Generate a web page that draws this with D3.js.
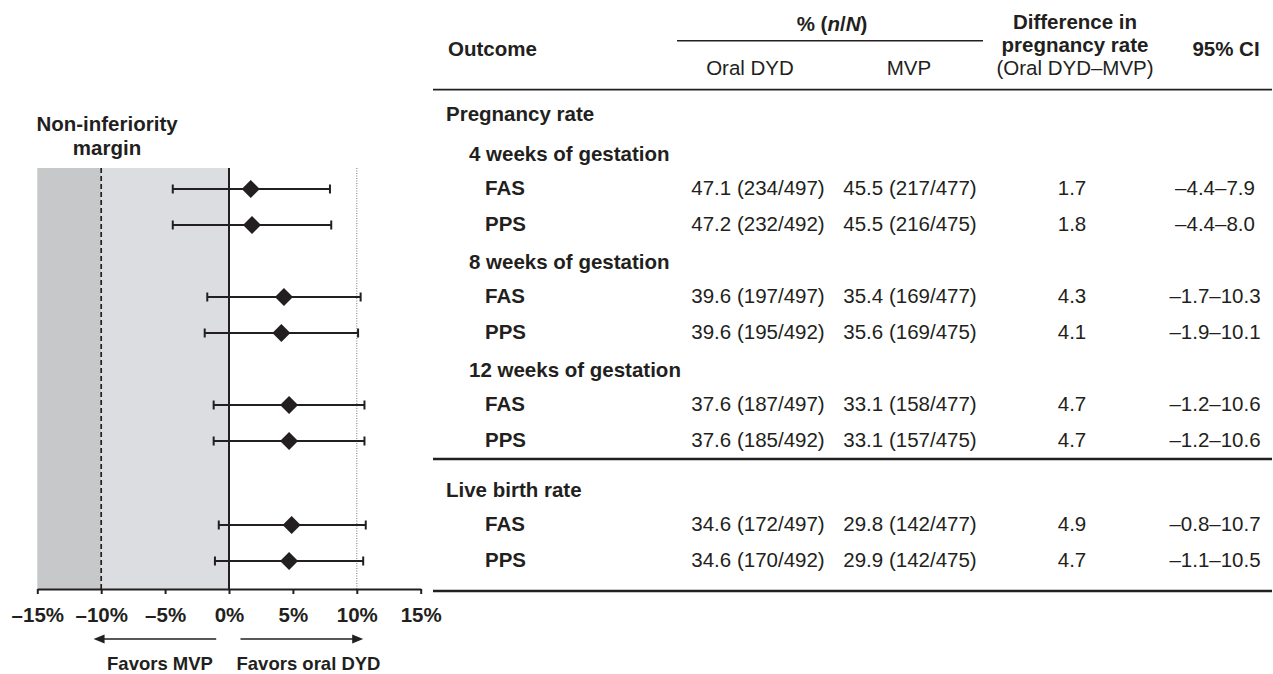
<!DOCTYPE html>
<html>
<head>
<meta charset="utf-8">
<style>
    body { margin: 0; background: #fff; }
    svg { display: block; font-family: "Liberation Sans", Arial, sans-serif; }
    text { fill: #231f20; font-size: 20.5px; }
    .bold { font-weight: bold; }
    .favor { font-size: 18.5px; }
    .x .tick text { font-weight: bold; font-size: 20.5px; fill: #231f20; }
    .x .tick line { stroke: #231f20; stroke-width: 2px; }
    .x .domain { stroke: #231f20; stroke-width: 2.2px; }
</style>
</head>
<body>
<svg width="1273" height="674"></svg>

<script src="https://d3js.org/d3.v7.min.js"></script>
<script>
    // table content
    let sections = ["Pregnancy rate", "Live birth rate"];
    let groups = ["4 weeks of gestation", "8 weeks of gestation", "12 weeks of gestation"];
    let populations = ["FAS", "PPS", "FAS", "PPS", "FAS", "PPS", "FAS", "PPS"];
    let oralDYD = ["47.1 (234/497)", "47.2 (232/492)", "39.6 (197/497)", "39.6 (195/492)",
                   "37.6 (187/497)", "37.6 (185/492)", "34.6 (172/497)", "34.6 (170/492)"];
    let mvp = ["45.5 (217/477)", "45.5 (216/475)", "35.4 (169/477)", "35.6 (169/475)",
               "33.1 (158/477)", "33.1 (157/475)", "29.8 (142/477)", "29.9 (142/475)"];
    let diff = [1.7, 1.8, 4.3, 4.1, 4.7, 4.7, 4.9, 4.7];
    let ciLow = [-4.4, -4.4, -1.7, -1.9, -1.2, -1.2, -0.8, -1.1];
    let ciHigh = [7.9, 8.0, 10.3, 10.1, 10.6, 10.6, 10.7, 10.5];
    let xTicks = [-15, -10, -5, 0, 5, 10, 15];
    let niMargin = -10;

    let svg = d3.select("svg");
    let dash = "\u2013";
    let fmtNum = v => (v < 0 ? dash : "") + Math.abs(v).toFixed(1);

    // build the row layout (y of each line in the table)
    let lines = [];
    let cursor = 113;
    lines.push({ type: "section", text: sections[0], y: cursor });
    cursor += 40;
    groups.forEach(function (g, gi) {
        lines.push({ type: "group", text: g, y: cursor });
        cursor += 36;
        [0, 1].forEach(function (k) {
            lines.push({ type: "data", i: gi * 2 + k, y: cursor });
            cursor += 36;
        });
    });
    let ruleY = cursor - 18;
    cursor = ruleY + 30;
    lines.push({ type: "section", text: sections[1], y: cursor });
    cursor += 36;
    [6, 7].forEach(function (i) {
        lines.push({ type: "data", i: i, y: cursor });
        cursor += 36;
    });
    let bottomY = cursor - 6;

    let dataLines = lines.filter(d => d.type == "data");

    // forest plot
    let plotTop = 168, axisY = 589;
    let x = d3.scaleLinear().domain([-15, 15]).range([37.3, 420.7]);

    svg.append("rect")
        .attr("x", x(-15)).attr("y", plotTop)
        .attr("width", x(niMargin) - x(-15)).attr("height", axisY - plotTop)
        .attr("fill", "#c7c8ca");
    svg.append("rect")
        .attr("x", x(niMargin)).attr("y", plotTop)
        .attr("width", x(0) - x(niMargin)).attr("height", axisY - plotTop)
        .attr("fill", "#dcdde0");

    svg.append("line")
        .attr("x1", x(niMargin)).attr("x2", x(niMargin))
        .attr("y1", plotTop).attr("y2", axisY)
        .attr("stroke", "#231f20").attr("stroke-width", 1.7)
        .attr("stroke-dasharray", "5,3");
    svg.append("line")
        .attr("x1", x(10)).attr("x2", x(10))
        .attr("y1", plotTop).attr("y2", axisY)
        .attr("stroke", "#777").attr("stroke-width", 1)
        .attr("stroke-dasharray", "1,1.5");
    svg.append("line")
        .attr("x1", x(0)).attr("x2", x(0))
        .attr("y1", plotTop).attr("y2", axisY)
        .attr("stroke", "#231f20").attr("stroke-width", 2);

    let xAxis = d3.axisBottom(x)
        .tickValues(xTicks)
        .tickSize(5)
        .tickPadding(13)
        .tickSizeOuter(0)
        .tickFormat(d => (d < 0 ? dash : "") + Math.abs(d) + "%");

    svg.append("g")
        .attr("class", "x axis")
        .attr("transform", `translate(0,${axisY})`)
        .call(xAxis)
        .call(g => g.attr("font-family", null).attr("font-size", null));

    let forest = svg.append("g").selectAll("g")
        .data(dataLines)
        .join("g");

    forest.append("line")
        .attr("x1", d => x(ciLow[d.i])).attr("x2", d => x(ciHigh[d.i]))
        .attr("y1", d => d.y).attr("y2", d => d.y)
        .attr("stroke", "#231f20").attr("stroke-width", 2);
    forest.append("line")
        .attr("x1", d => x(ciLow[d.i])).attr("x2", d => x(ciLow[d.i]))
        .attr("y1", d => d.y - 4.5).attr("y2", d => d.y + 4.5)
        .attr("stroke", "#231f20").attr("stroke-width", 2);
    forest.append("line")
        .attr("x1", d => x(ciHigh[d.i])).attr("x2", d => x(ciHigh[d.i]))
        .attr("y1", d => d.y - 4.5).attr("y2", d => d.y + 4.5)
        .attr("stroke", "#231f20").attr("stroke-width", 2);
    forest.append("path")
        .attr("d", d => {
            let cx = x(diff[d.i]), cy = d.y, r = 9;
            return `M${cx},${cy - r}L${cx + r},${cy}L${cx},${cy + r}L${cx - r},${cy}Z`;
        })
        .attr("fill", "#231f20");

    // margin label
    svg.append("text").attr("class", "bold")
        .attr("x", 107).attr("y", 123).attr("text-anchor", "middle")
        .attr("dominant-baseline", "central").text("Non-inferiority");
    svg.append("text").attr("class", "bold")
        .attr("x", 107).attr("y", 147).attr("text-anchor", "middle")
        .attr("dominant-baseline", "central").text("margin");

    // favours arrows
    let arrowY = 639;
    function arrow(x1, x2) {
        svg.append("line")
            .attr("x1", x1).attr("x2", x2 + (x2 < x1 ? 10 : -10))
            .attr("y1", arrowY).attr("y2", arrowY)
            .attr("stroke", "#231f20").attr("stroke-width", 1.5);
        let s = x2 < x1 ? 1 : -1;
        svg.append("path")
            .attr("d", `M${x2},${arrowY}L${x2 + s * 11},${arrowY - 4.5}L${x2 + s * 11},${arrowY + 4.5}Z`)
            .attr("fill", "#231f20");
    }
    arrow(x(-1), x(-10.6));
    arrow(x(0.9), x(10.5));

    svg.append("text").attr("class", "bold favor")
        .attr("x", 160).attr("y", 663).attr("text-anchor", "middle")
        .attr("dominant-baseline", "central").text("Favors MVP");
    svg.append("text").attr("class", "bold favor")
        .attr("x", 308.5).attr("y", 663).attr("text-anchor", "middle")
        .attr("dominant-baseline", "central").text("Favors oral DYD");

    // table header
    let colOral = 758, colMvp = 910, colDiff = 1072, colCi = 1215;
    let tableLeft = 433, tableRight = 1272;

    function label(txt, xp, yp, anchor, bold) {
        return svg.append("text")
            .attr("class", bold ? "bold" : null)
            .attr("x", xp).attr("y", yp)
            .attr("text-anchor", anchor)
            .attr("dominant-baseline", "central")
            .text(txt);
    }

    label("Outcome", 448, 48, "start", true);
    let pct = label("% (", 832, 23, "middle", true);
    pct.append("tspan").attr("font-style", "italic").text("n");
    pct.append("tspan").text("/");
    pct.append("tspan").attr("font-style", "italic").text("N");
    pct.append("tspan").text(")");
    svg.append("line")
        .attr("x1", 677).attr("x2", 983).attr("y1", 40.7).attr("y2", 40.7)
        .attr("stroke", "#231f20").attr("stroke-width", 1.6);
    label("Oral DYD", 750, 67, "middle", false);
    label("MVP", 909, 67, "middle", false);
    label("Difference in", 1075, 21, "middle", true);
    label("pregnancy rate", 1075, 44, "middle", true);
    label("(Oral DYD" + dash + "MVP)", 1075, 67.5, "middle", false);
    label("95% CI", 1226, 48, "middle", true);

    [89.7, ruleY, bottomY].forEach(function (ry, k) {
        svg.append("line")
            .attr("x1", tableLeft).attr("x2", tableRight)
            .attr("y1", ry).attr("y2", ry)
            .attr("stroke", "#231f20").attr("stroke-width", k == 0 ? 1.8 : 2.4);
    });

    // table body
    lines.forEach(function (d) {
        if (d.type == "section") {
            label(d.text, 446, d.y, "start", true);
        } else if (d.type == "group") {
            label(d.text, 469, d.y, "start", true);
        } else {
            let ty = d.y - 1.5;
            label(populations[d.i], 485, ty, "start", true);
            label(oralDYD[d.i], colOral, ty, "middle", false);
            label(mvp[d.i], colMvp, ty, "middle", false);
            label(diff[d.i].toFixed(1), colDiff, ty, "middle", false);
            label(fmtNum(ciLow[d.i]) + dash + fmtNum(ciHigh[d.i]), colCi, ty, "middle", false);
        }
    });
</script>
</body>
</html>
